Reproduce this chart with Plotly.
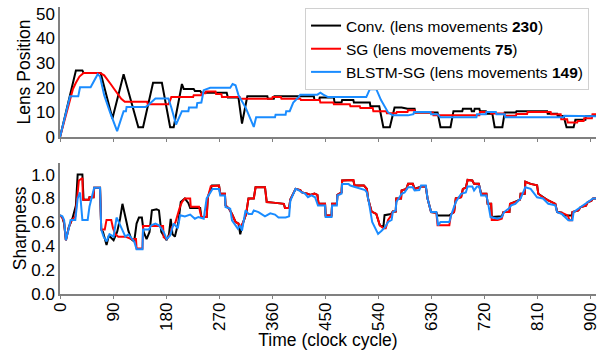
import plotly.graph_objects as go

# ---- Lens position (top panel): (time, value) vertices ----
conv_lens_t = [0, 27, 38, 40, 69, 89, 108, 133, 141, 158, 173, 187, 193, 207, 210, 227, 229, 238, 240, 283,
               285, 303, 309, 318, 352, 353, 363, 364, 431, 432, 440, 441, 465, 466, 478, 479, 498, 499, 526,
               527, 542, 549, 560, 568, 580, 590, 602, 603, 641, 646, 663, 668, 683, 684, 698, 699, 703, 704,
               712, 713, 723, 724, 734, 738, 751, 755, 774, 775, 827, 828, 844, 845, 855, 860, 872, 875, 892,
               893, 905, 910]
conv_lens = [0, 27, 27, 26, 26, 7.5, 25.5, 4, 4, 22, 22, 4, 4, 21.5, 19.5, 19.5, 18.7, 18.7, 18, 18,
             16, 16, 5.5, 16.5, 16.5, 15.5, 15.5, 16.5, 16.5, 15, 15, 16, 16, 14, 14, 15, 15, 14, 14,
             12.5, 12.5, 4, 4, 12, 12, 11.5, 11.5, 10, 10, 4, 4, 10.5, 10.5, 11.5, 11.5, 10.5, 10.5, 11.5,
             11.5, 10.5, 10.5, 9.5, 9.5, 4, 4, 10, 10, 10.5, 10.5, 9.5, 9.5, 8.5, 8.5, 4, 4, 7, 7,
             8.5, 8.5, 9]

sg_lens_t = [0, 17, 22, 27, 33, 40, 68, 75, 80, 86, 92, 98, 104, 110, 148, 149, 184, 186, 189, 226, 227,
             240, 241, 247, 248, 264, 265, 274, 275, 305, 306, 360, 361, 375, 376, 408, 409, 441, 442, 464,
             465, 492, 493, 509, 510, 531, 532, 554, 555, 571, 572, 590, 591, 602, 603, 633, 634, 712, 713,
             731, 732, 754, 755, 774, 775, 793, 794, 833, 834, 850, 851, 861, 862, 878, 879, 889, 890, 903,
             904, 910]
sg_lens = [0, 16, 19.5, 22, 24.5, 26, 26, 25, 23.2, 21.5, 19.5, 17.5, 15.5, 14.3, 14.3, 13.3, 13.3, 14.3,
           16.2, 16.2, 17, 17, 17.8, 17.8, 18.5, 18.5, 17.5, 17.5, 16.2, 16.2, 15.5, 15.5, 16.2, 16.2, 15.5,
           15.5, 15, 15, 14, 14, 13.3, 13.3, 12.5, 12.5, 11.8, 11.8, 10.5, 10.5, 9.7, 9.7, 10.2, 10.2, 10.9,
           10.9, 10, 10, 8.9, 8.9, 10.2, 10.2, 9.6, 9.6, 8.6, 8.6, 9.4, 9.4, 10.2, 10.2, 9.3, 9.3, 7.2, 7.2,
           5.9, 5.9, 6.5, 6.5, 7.6, 7.6, 9.3, 9.3]

blstm_lens_t = [0, 17, 31, 34, 52, 64, 68, 75, 85, 97, 108, 112, 113, 138, 145, 150, 155, 162, 184, 189,
                197, 207, 218, 219, 232, 233, 240, 244, 255, 289, 293, 298, 303, 315, 329, 333, 365, 366,
                383, 384, 390, 396, 405, 408, 437, 442, 447, 455, 520, 526, 537, 545, 557, 565, 591, 600,
                601, 629, 630, 641, 646, 707, 708, 723, 724, 740, 741, 755, 756, 855, 856, 882, 883, 910]
blstm_lens = [0, 16.5, 16.5, 20.2, 20.2, 25.5, 24.5, 17, 10, 2.4, 10.5, 10.5, 12.2, 12.2, 12.2, 13, 14,
              15.6, 15.6, 12, 5.1, 10.5, 10.5, 12, 12, 13.8, 14, 19, 20, 20, 21.5, 21, 17, 12, 4.1, 8, 8,
              9.1, 9.1, 10.5, 10.5, 14, 16.2, 17.2, 17.2, 18, 17.2, 16.2, 16.2, 19.4, 19.4, 15, 10, 8.8,
              8.8, 9.3, 10.2, 10.2, 9.3, 9.3, 8, 8, 9.3, 9.3, 10.2, 10.2, 9.3, 9.3, 8, 8, 8.6, 8.6, 8.4, 8.4]

# ---- Sharpness (bottom panel): (time, value) vertices ----
conv_sharp_t = [0, 4, 7, 10, 15, 21, 27, 30, 38, 40, 49, 50, 57, 58, 68, 70, 73, 76, 79, 83, 88, 91, 97,
                102, 106, 110, 113, 116, 121, 126, 130, 134, 139, 142, 147, 152, 156, 164, 168, 172, 177,
                181, 185, 188, 191, 195, 201, 205, 212, 218, 221, 238, 240, 249, 251, 258, 270, 272, 280,
                281, 287, 292, 298, 303, 306, 311, 316, 320, 329, 332, 348, 351, 362, 380, 382, 389, 391,
                400, 408, 411, 420, 425, 432, 437, 439, 450, 451, 461, 462, 470, 471, 478, 479, 498, 500,
                516, 521, 523, 529, 537, 543, 549, 551, 562, 565, 570, 571, 579, 580, 588, 591, 599, 602,
                610, 613, 621, 624, 630, 639, 641, 661, 664, 669, 672, 681, 684, 689, 692, 700, 703, 711,
                715, 724, 726, 732, 733, 743, 750, 753, 763, 764, 773, 776, 781, 782, 789, 790, 799, 810,
                812, 820, 829, 841, 844, 852, 855, 869, 870, 880, 884, 893, 896, 902, 905, 910]
conv_sharp = [0.66, 0.64, 0.59, 0.45, 0.56, 0.63, 0.74, 1.0, 1.0, 0.79, 0.79, 0.81, 0.81, 0.89, 0.89,
              0.54, 0.52, 0.45, 0.41, 0.49, 0.47, 0.45, 0.52, 0.63, 0.755, 0.65, 0.60, 0.53, 0.46, 0.44,
              0.59, 0.64, 0.64, 0.52, 0.46, 0.52, 0.70, 0.71, 0.70, 0.52, 0.48, 0.45, 0.50, 0.63, 0.50,
              0.48, 0.60, 0.77, 0.80, 0.76, 0.72, 0.72, 0.645, 0.645, 0.81, 0.908, 0.908, 0.84, 0.84,
              0.742, 0.714, 0.67, 0.603, 0.59, 0.50, 0.60, 0.67, 0.80, 0.80, 0.894, 0.894, 0.77, 0.765,
              0.755, 0.72, 0.72, 0.79, 0.88, 0.87, 0.85, 0.84, 0.83, 0.84, 0.83, 0.755, 0.755, 0.658,
              0.658, 0.755, 0.755, 0.83, 0.85, 0.95, 0.955, 0.908, 0.908, 0.88, 0.80, 0.69, 0.67, 0.575,
              0.56, 0.66, 0.67, 0.69, 0.69, 0.80, 0.80, 0.867, 0.88, 0.922, 0.922, 0.88, 0.89, 0.90, 0.90,
              0.80, 0.686, 0.68, 0.658, 0.658, 0.67, 0.686, 0.80, 0.81, 0.88, 0.89, 0.955, 0.95, 0.922,
              0.922, 0.839, 0.839, 0.755, 0.755, 0.644, 0.644, 0.65, 0.686, 0.686, 0.755, 0.77, 0.78,
              0.79, 0.839, 0.839, 0.94, 0.922, 0.91, 0.839, 0.81, 0.783, 0.755, 0.686, 0.68, 0.658, 0.658,
              0.686, 0.70, 0.728, 0.74, 0.77, 0.78, 0.80, 0.80]

sg_sharp_t = [0, 4, 7, 10, 15, 20, 26, 29, 32, 38, 39, 49, 50, 57, 58, 68, 70, 76, 79, 87, 90, 94, 99,
              111, 121, 129, 130, 140, 141, 175, 176, 181, 187, 190, 196, 203, 207, 212, 221, 222, 236,
              240, 249, 251, 256, 270, 272, 280, 281, 287, 292, 298, 303, 306, 311, 316, 320, 329, 332,
              348, 351, 362, 380, 382, 389, 391, 400, 408, 411, 420, 425, 432, 437, 439, 450, 451, 461,
              462, 470, 471, 478, 479, 498, 500, 516, 521, 523, 529, 537, 543, 549, 553, 557, 562, 565,
              570, 571, 579, 580, 588, 591, 599, 602, 610, 613, 621, 624, 630, 639, 641, 661, 664, 669,
              672, 681, 684, 689, 692, 700, 703, 711, 715, 724, 726, 732, 733, 743, 750, 753, 763, 764,
              773, 776, 781, 782, 789, 790, 799, 810, 812, 820, 829, 841, 844, 852, 862, 865, 869, 870,
              880, 884, 893, 896, 902, 905, 910]
sg_sharp = [0.66, 0.64, 0.60, 0.45, 0.56, 0.62, 0.65, 0.80, 0.95, 0.97, 0.79, 0.79, 0.81, 0.81, 0.89,
            0.89, 0.54, 0.54, 0.62, 0.62, 0.55, 0.50, 0.48, 0.48, 0.46, 0.46, 0.38, 0.38, 0.57, 0.57,
            0.475, 0.46, 0.50, 0.56, 0.60, 0.72, 0.77, 0.80, 0.80, 0.73, 0.73, 0.645, 0.645, 0.81, 0.903,
            0.908, 0.84, 0.84, 0.742, 0.714, 0.67, 0.603, 0.59, 0.56, 0.60, 0.67, 0.80, 0.80, 0.894, 0.894,
            0.77, 0.765, 0.755, 0.72, 0.72, 0.79, 0.88, 0.87, 0.85, 0.84, 0.83, 0.84, 0.83, 0.755, 0.755,
            0.658, 0.658, 0.755, 0.755, 0.83, 0.85, 0.95, 0.955, 0.908, 0.908, 0.88, 0.80, 0.69, 0.67,
            0.575, 0.55, 0.55, 0.62, 0.655, 0.69, 0.69, 0.80, 0.80, 0.867, 0.88, 0.922, 0.922, 0.88, 0.89,
            0.90, 0.90, 0.80, 0.686, 0.68, 0.575, 0.575, 0.67, 0.686, 0.80, 0.81, 0.88, 0.89, 0.955, 0.95,
            0.922, 0.922, 0.839, 0.839, 0.755, 0.755, 0.62, 0.62, 0.63, 0.686, 0.686, 0.755, 0.77, 0.78,
            0.79, 0.839, 0.839, 0.94, 0.922, 0.91, 0.839, 0.81, 0.783, 0.755, 0.686, 0.68, 0.658, 0.617,
            0.617, 0.686, 0.70, 0.728, 0.74, 0.77, 0.78, 0.80, 0.80]

blstm_sharp_t = [0, 4, 7, 10, 15, 18, 26, 30, 34, 38, 47, 50, 58, 68, 70, 74, 79, 84, 91, 96, 100, 105,
                 111, 116, 122, 126, 130, 140, 141, 151, 155, 162, 168, 176, 181, 187, 193, 200, 204, 212,
                 221, 229, 235, 244, 249, 254, 259, 270, 272, 280, 281, 289, 292, 298, 302, 306, 309, 315,
                 320, 326, 329, 337, 348, 357, 365, 371, 383, 389, 391, 400, 405, 411, 416, 421, 427, 433,
                 438, 450, 451, 461, 462, 470, 471, 478, 479, 490, 493, 498, 510, 518, 521, 524, 530, 540,
                 546, 552, 557, 563, 565, 570, 571, 580, 585, 591, 599, 602, 610, 613, 621, 624, 630, 639,
                 642, 646, 661, 664, 672, 681, 689, 692, 700, 703, 708, 712, 715, 724, 727, 731, 743, 750,
                 754, 763, 766, 773, 782, 790, 799, 810, 820, 829, 841, 844, 852, 863, 870, 872, 884, 896,
                 905, 910]
blstm_sharp = [0.66, 0.65, 0.62, 0.45, 0.55, 0.62, 0.62, 0.80, 0.85, 0.62, 0.62, 0.73, 0.89, 0.89, 0.54,
               0.48, 0.44, 0.50, 0.48, 0.64, 0.60, 0.55, 0.48, 0.50, 0.46, 0.44, 0.375, 0.375, 0.54, 0.54,
               0.575, 0.59, 0.575, 0.52, 0.46, 0.49, 0.59, 0.55, 0.66, 0.65, 0.665, 0.63, 0.645, 0.63, 0.80,
               0.84, 0.88, 0.88, 0.825, 0.825, 0.728, 0.714, 0.617, 0.575, 0.547, 0.575, 0.53, 0.70, 0.67,
               0.67, 0.70, 0.685, 0.65, 0.675, 0.665, 0.64, 0.64, 0.65, 0.78, 0.88, 0.87, 0.85, 0.84, 0.81,
               0.825, 0.81, 0.74, 0.74, 0.644, 0.644, 0.74, 0.74, 0.825, 0.84, 0.92, 0.92, 0.908, 0.90, 0.88,
               0.87, 0.85, 0.78, 0.603, 0.503, 0.53, 0.56, 0.603, 0.62, 0.686, 0.70, 0.77, 0.839, 0.85,
               0.894, 0.894, 0.867, 0.87, 0.908, 0.908, 0.80, 0.686, 0.686, 0.575, 0.603, 0.603, 0.658,
               0.77, 0.839, 0.85, 0.90, 0.90, 0.867, 0.90, 0.90, 0.825, 0.825, 0.755, 0.644, 0.63, 0.644,
               0.686, 0.72, 0.742, 0.755, 0.80, 0.894, 0.88, 0.81, 0.80, 0.755, 0.742, 0.686, 0.67, 0.617,
               0.617, 0.686, 0.728, 0.77, 0.80, 0.80]

x_ticks = [0, 90, 180, 270, 360, 450, 540, 630, 720, 810, 900]
series_names = ["Conv. (lens movements <b>230</b>)",
                "SG (lens movements <b>75</b>)",
                "BLSTM-SG (lens movements <b>149</b>)"]
series_colors = ["#000000", "#ff0000", "#1a8cff"]

FONT = "Liberation Sans, Arial, sans-serif"
AXIS_GRAY = "#808080"

fig = go.Figure()

lens_sets = [(conv_lens_t, conv_lens), (sg_lens_t, sg_lens), (blstm_lens_t, blstm_lens)]
sharp_sets = [(conv_sharp_t, conv_sharp), (sg_sharp_t, sg_sharp), (blstm_sharp_t, blstm_sharp)]

for (t, v), name, col in zip(lens_sets, series_names, series_colors):
    fig.add_trace(go.Scatter(x=t, y=v, mode="lines", name=name,
                             line=dict(color=col, width=2), xaxis="x", yaxis="y"))
for (t, v), name, col in zip(sharp_sets, series_names, series_colors):
    fig.add_trace(go.Scatter(x=t, y=v, mode="lines", name=name, showlegend=False,
                             line=dict(color=col, width=2), xaxis="x2", yaxis="y2"))

tick_font = dict(size=17, color="#000000", family=FONT)
title_font = dict(size=17.5, family=FONT, color="#000000")

x_common = dict(showline=True, linecolor=AXIS_GRAY, linewidth=1.5, showgrid=False,
                zeroline=False, ticks="outside", ticklen=3, tickcolor=AXIS_GRAY,
                tickfont=tick_font, range=[0, 910], tickvals=x_ticks)
y_common = dict(showline=True, linecolor=AXIS_GRAY, linewidth=1.5, showgrid=False,
                zeroline=False, ticks="", tickfont=tick_font)

fig.update_layout(
    width=605, height=350,
    margin=dict(l=60, r=6, t=5, b=56),
    paper_bgcolor="white", plot_bgcolor="white",
    font=dict(family=FONT, color="#000000"),
    xaxis=dict(domain=[0, 1], anchor="y", showticklabels=False, **x_common),
    yaxis=dict(domain=[0.5467, 1.0], range=[0, 52.7], anchor="x",
               tickvals=[0, 10, 20, 30, 40, 50],
               title=dict(text="Lens Position", font=title_font, standoff=1),
               **y_common),
    xaxis2=dict(domain=[0, 1], anchor="y2", tickangle=-90, ticklabelstandoff=-3,
                title=dict(text="Time (clock cycle)", font=title_font, standoff=0),
                **x_common),
    yaxis2=dict(domain=[0, 0.4578], range=[0, 1.1], anchor="x2",
                tickvals=[0, 0.2, 0.4, 0.6, 0.8, 1.0], tickformat=".1f",
                title=dict(text="Sharpness", font=title_font, standoff=0),
                **y_common),
    legend=dict(x=0.987, y=0.9965, xanchor="right", yanchor="top",
                bgcolor="white", bordercolor="#d0d0d0", borderwidth=1,
                font=dict(size=15.5, family=FONT, color="#000000"),
                tracegroupgap=0, itemwidth=30),
    showlegend=True,
)

fig.write_html("out.html")
